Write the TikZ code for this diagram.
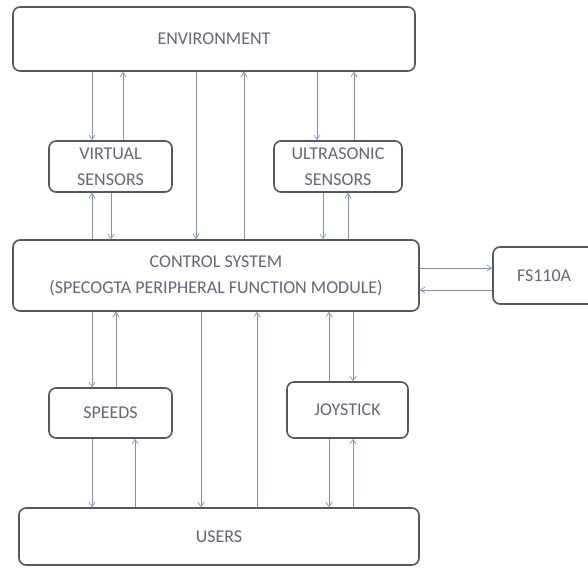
\documentclass[tikz,border=0pt]{standalone}
\usepackage{fontspec}
\setmainfont{Carlito}
\usetikzlibrary{arrows.meta,positioning}
\definecolor{boxline}{RGB}{85,88,95}
\definecolor{arrowline}{RGB}{128,146,178}
\definecolor{labeltext}{RGB}{108,98,120}
\tikzset{
    %Define standard arrow tip
    >={Straight Barb[length=4.5pt,width=6pt]},
    %Define style for boxes
    block/.style={
           rectangle,
           rounded corners=7pt,
           draw=boxline, line width=1.6pt,
           fill=white,
           inner sep=0pt,
           font=\fontsize{18}{26}\selectfont,
           text=labeltext,
           align=center},
    % Define arrow style
    pil/.style={
           ->,
           draw=arrowline,
           line width=0.7pt}
}
\begin{document}
\begin{tikzpicture}[x=1pt,y=-1pt]
\useasboundingbox (0,0) rectangle (588,567);
\clip (0,0) rectangle (588,567);
 %nodes
\node[block, minimum width=402pt, minimum height=64pt] (env) at (214,39) {ENVIRONMENT};
\node[block, minimum width=123pt, minimum height=51pt] (vs) at (110.5,166.5) {VIRTUAL\\SENSORS};
\node[block, minimum width=128pt, minimum height=51pt] (us) at (338,166.5) {ULTRASONIC\\SENSORS};
\node[block, minimum width=406pt, minimum height=71pt] (cs) at (216,275.5) {CONTROL SYSTEM\\(SPECOGTA PERIPHERAL FUNCTION MODULE)};
\node[block, minimum height=57pt, text width=72pt, inner xsep=24pt, align=left] (fs) at (553,275.5) {FS110A};
\node[block, minimum width=123pt, minimum height=50pt] (sp) at (110.5,413) {SPEEDS};
\node[block, minimum width=121pt, minimum height=56pt] (joy) at (347.5,410) {JOYSTICK};
\node[block, minimum width=400pt, minimum height=57pt] (users) at (219,536.5) {USERS};
 %vertical links
\foreach \x/\from/\to in {92/env.south/vs.north, 123/vs.north/env.south,
    92/cs.north/vs.south, 111/vs.south/cs.north,
    196/env.south/cs.north, 244/cs.north/env.south,
    317/env.south/us.north, 354/us.north/env.south,
    323/us.south/cs.north, 348/cs.north/us.south,
    92/cs.south/sp.north, 116/sp.north/cs.south,
    92/sp.south/users.north, 135/users.north/sp.south,
    201/cs.south/users.north, 257/users.north/cs.south,
    329/joy.north/cs.south, 353/cs.south/joy.north,
    329/joy.south/users.north, 353/users.north/joy.south}
  \draw[pil] (\from -| \x,0) -- (\to -| \x,0);
 %side links
\draw[pil] (cs.east |- 0,268) -- (fs.west |- 0,268);
\draw[pil] (fs.west |- 0,290) -- (cs.east |- 0,290);
\end{tikzpicture}
\end{document}
